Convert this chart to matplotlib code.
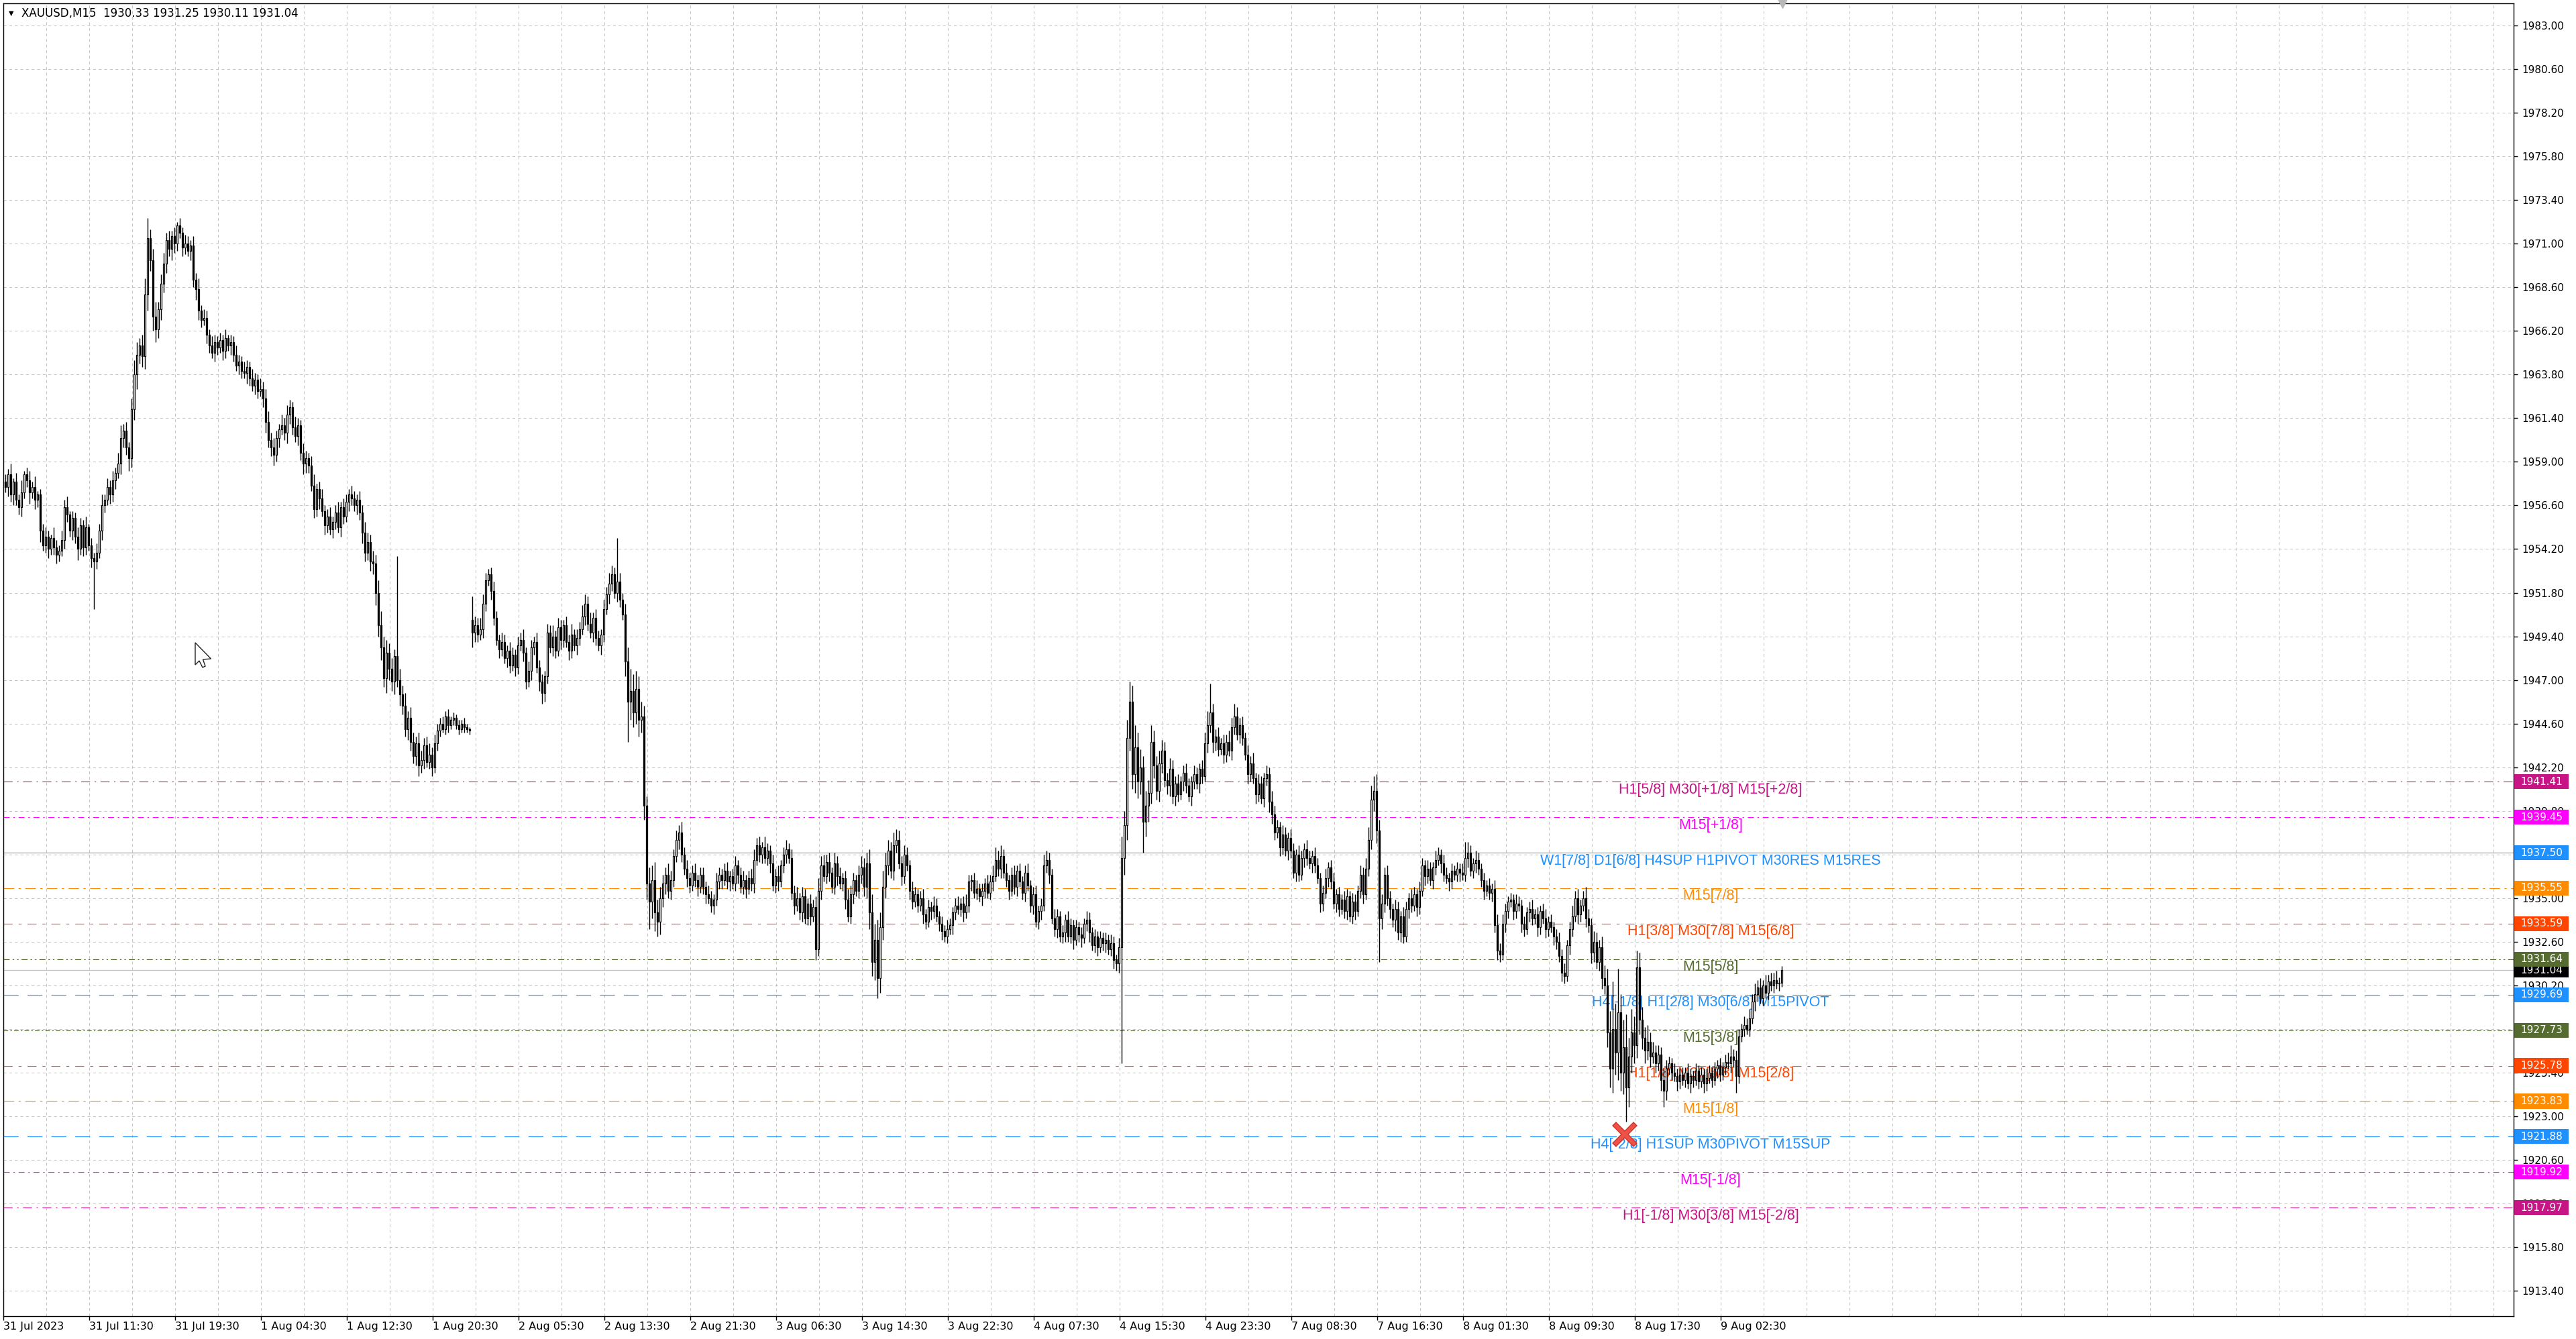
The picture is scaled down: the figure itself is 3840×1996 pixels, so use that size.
import numpy as np
import matplotlib
matplotlib.use("Agg")
import matplotlib.pyplot as plt
from matplotlib.patches import Rectangle, Polygon
from matplotlib.transforms import blended_transform_factory

# XAUUSD M15 closes (bar 0 = 31 Jul 03:30)
closes = [
    1957.6, 1958.3, 1957.2, 1957.9, 1956.9, 1956.5, 1957.3, 1958.3, 1958.0, 1957.3, 1957.6, 1956.9, 1957.2, 1955.2, 1954.4, 1954.9, 1954.2, 1954.8, 1954.3, 1953.9,
    1954.1, 1954.7, 1956.5, 1956.1, 1955.2, 1955.9, 1954.9, 1954.2, 1955.5, 1954.3, 1955.4, 1954.4, 1953.7, 1953.5, 1954.0, 1955.2, 1956.6, 1956.9, 1957.6, 1957.2,
    1958.0, 1958.4, 1958.9, 1960.3, 1960.7, 1959.8, 1959.2, 1961.9, 1963.8, 1964.9, 1965.4, 1964.8, 1968.2, 1971.3, 1970.1, 1967.0, 1966.3, 1967.4, 1968.8, 1969.9,
    1971.2, 1970.7, 1971.4, 1971.0, 1972.0, 1971.6, 1970.8, 1971.0, 1970.6, 1970.9, 1969.0, 1968.5, 1967.3, 1966.8, 1966.9, 1966.0, 1965.4, 1965.0, 1965.6, 1965.3,
    1965.7, 1965.1, 1965.8, 1965.4, 1965.6, 1964.9, 1964.3, 1964.5, 1964.0, 1963.9, 1964.2, 1963.6, 1963.2, 1963.5, 1962.9, 1963.0, 1962.5, 1961.2, 1960.2, 1959.8,
    1959.4, 1960.3, 1960.8, 1961.0, 1960.6, 1961.6, 1962.0, 1960.9, 1960.4, 1961.0, 1959.5, 1958.9, 1959.2, 1958.8, 1957.7, 1956.4, 1957.5, 1957.0, 1956.3, 1955.5,
    1956.0, 1955.3, 1955.7, 1956.2, 1955.4, 1956.5, 1956.0, 1956.8, 1957.2, 1957.0, 1956.6, 1956.9, 1956.2, 1955.1, 1954.0, 1954.6, 1953.5, 1953.4, 1951.8, 1950.0,
    1948.8, 1947.1, 1948.5, 1947.6, 1946.9, 1948.3, 1947.0, 1946.2, 1945.6, 1944.3, 1944.9, 1943.6, 1942.8, 1943.5, 1942.3, 1942.6, 1943.4, 1942.5, 1942.9, 1942.2,
    1943.5, 1944.2, 1944.6, 1944.3, 1945.0, 1944.5, 1944.8, 1944.9, 1944.5, 1944.3, 1944.6, 1944.4, 1944.3, 1944.2, 1949.6, 1950.0, 1949.5, 1949.8, 1951.2, 1952.5,
    1952.8, 1951.9, 1950.4, 1949.2, 1948.7, 1949.1, 1948.2, 1948.6, 1947.8, 1948.4, 1947.7, 1948.9, 1949.2, 1948.5, 1946.9, 1947.5, 1948.8, 1949.1, 1947.7, 1946.9,
    1946.3, 1947.2, 1949.6, 1948.8, 1949.4, 1948.6, 1949.9, 1949.2, 1950.0, 1949.1, 1948.6, 1949.5, 1948.9, 1949.3, 1949.8, 1950.5, 1951.2, 1950.1, 1949.6, 1950.4,
    1949.3, 1948.9, 1949.5, 1950.9, 1951.7, 1952.3, 1952.8, 1951.8, 1952.4, 1951.4, 1950.6, 1948.0, 1945.8, 1946.4, 1945.2, 1946.5, 1944.8, 1945.0, 1940.1, 1935.8,
    1934.8, 1936.0, 1934.2, 1933.7, 1935.0, 1935.8, 1936.3, 1935.4, 1936.0, 1937.3, 1938.2, 1938.6, 1937.4, 1936.6, 1936.1, 1935.7, 1936.4, 1936.0, 1935.6, 1936.3,
    1935.6, 1935.2, 1935.0, 1934.6, 1934.9, 1935.9, 1936.3, 1936.0, 1936.5, 1935.9, 1936.2, 1935.8, 1936.8, 1936.3, 1935.6, 1936.0, 1935.5, 1936.1, 1935.8, 1937.1,
    1937.9, 1937.4, 1937.8, 1937.2, 1937.6, 1936.9, 1935.7, 1936.2, 1935.9, 1936.8, 1937.4, 1937.7, 1937.2, 1935.3, 1934.6, 1935.0, 1934.2, 1935.1, 1933.9, 1934.7,
    1934.0, 1934.5, 1932.2, 1935.4, 1936.8, 1936.2, 1937.0, 1936.4, 1935.6, 1936.9, 1936.2, 1935.8, 1936.1, 1934.9, 1934.0, 1935.2, 1936.0, 1935.4, 1936.3, 1936.7,
    1935.6, 1936.9, 1934.2, 1931.5, 1932.7, 1930.6, 1933.4, 1935.6, 1936.8, 1937.6, 1936.5, 1937.9, 1938.2, 1936.9, 1936.2, 1937.4, 1936.8, 1935.4, 1934.8, 1935.2,
    1934.6, 1935.0, 1934.1, 1933.7, 1934.5, 1934.3, 1934.6, 1934.0, 1933.6, 1933.2, 1932.9, 1933.3, 1933.5, 1934.2, 1934.6, 1934.4, 1934.7, 1934.2, 1934.6, 1935.9,
    1936.0, 1935.3, 1935.5, 1935.1, 1935.4, 1935.8, 1935.3, 1935.9, 1936.2, 1937.1, 1936.6, 1937.3, 1936.4, 1936.0, 1935.4, 1936.3, 1935.6, 1936.5, 1935.9, 1935.3,
    1936.4, 1935.7, 1934.6, 1935.2, 1933.7, 1934.3, 1934.6, 1936.8, 1937.1, 1936.3, 1933.9, 1933.3, 1934.0, 1932.9, 1933.1, 1933.8, 1932.9, 1933.5, 1932.7, 1933.4,
    1933.0, 1932.8, 1933.6, 1933.8, 1933.1, 1932.4, 1932.9, 1932.3, 1932.8, 1932.5, 1932.7, 1932.2, 1932.5, 1931.6, 1931.4, 1932.3, 1937.2, 1939.0, 1943.8, 1945.8,
    1941.8, 1943.3, 1941.4, 1942.2, 1939.2, 1940.1, 1940.8, 1943.6, 1942.3, 1940.9, 1942.4, 1943.1, 1941.5, 1941.2, 1942.1, 1940.6, 1941.3, 1940.7, 1941.4, 1941.9,
    1941.2, 1940.6, 1941.4, 1941.8, 1941.3, 1942.1, 1941.7, 1943.5, 1944.5, 1945.2, 1943.6, 1943.9, 1943.2, 1943.5, 1942.9, 1943.6, 1943.1, 1944.4, 1945.0, 1944.0,
    1944.5, 1943.8, 1942.9, 1941.8, 1942.4, 1941.6, 1940.7, 1941.3, 1940.5, 1941.6, 1941.8, 1940.3, 1939.6, 1938.6, 1938.9, 1937.8, 1938.5, 1937.6, 1938.3, 1937.6,
    1936.4, 1937.4, 1936.3, 1937.2, 1937.7, 1937.2, 1936.9, 1937.3, 1936.8, 1936.1, 1934.7, 1935.3, 1936.1, 1936.7, 1935.9, 1934.7, 1935.2, 1934.4, 1934.9, 1934.3,
    1935.1, 1934.0, 1934.8, 1934.3, 1935.4, 1936.3, 1935.2, 1936.6, 1938.2, 1940.4, 1940.9, 1938.7, 1933.9, 1934.7, 1936.3, 1935.0, 1934.4, 1933.8, 1934.4, 1933.1,
    1934.0, 1932.9, 1934.4, 1935.0, 1934.6, 1935.2, 1934.5, 1935.4, 1936.8, 1936.2, 1936.6, 1936.0, 1936.7, 1937.1, 1937.4, 1936.9, 1936.3, 1936.1, 1935.9, 1936.5,
    1936.3, 1936.6, 1936.4, 1936.3, 1937.2, 1937.5, 1936.5, 1936.9, 1937.1, 1936.6, 1936.0, 1935.4, 1935.7, 1935.3, 1935.5, 1933.5, 1932.1, 1931.9, 1933.6, 1934.3,
    1934.8, 1934.9, 1934.3, 1934.7, 1934.6, 1933.6, 1933.3, 1934.2, 1934.4, 1933.9, 1934.1, 1933.4, 1934.3, 1933.9, 1933.3, 1933.7, 1933.4, 1932.9, 1932.6, 1931.8,
    1930.9, 1930.7, 1932.4, 1933.3, 1934.0, 1935.0, 1934.1, 1934.6, 1935.0, 1933.9, 1933.5, 1932.0, 1932.6, 1931.5, 1932.3, 1930.6, 1930.2, 1927.6, 1925.6, 1927.8,
    1926.5, 1928.7, 1925.4, 1926.8, 1924.6, 1926.3, 1927.6, 1926.9, 1931.2, 1928.3, 1927.3, 1926.6, 1927.1, 1926.3, 1926.5, 1925.9, 1926.4, 1925.0, 1924.4, 1925.6,
    1925.9, 1925.4, 1925.2, 1924.9, 1925.3, 1925.0, 1925.4, 1924.8, 1925.2, 1925.0, 1925.5, 1924.9, 1925.3, 1924.8, 1925.1, 1925.4, 1925.0, 1925.6, 1925.8, 1925.3,
    1925.7, 1926.0, 1925.9, 1926.3, 1926.1, 1925.2, 1927.4, 1927.8, 1928.0, 1927.8, 1928.4, 1929.3, 1929.7, 1930.1, 1929.5, 1930.2, 1929.8, 1930.4, 1930.2, 1930.5,
    1930.3, 1930.33, 1931.04,
]

# upper / lower wick lengths above / below the body of each bar
wick_up = [
    0.4, 0.3, 0.6, 0.2, 0.5, 0.3, 0.7, 0.2, 0.4, 0.5, 0.3, 0.6, 0.2, 0.3, 0.4, 0.5, 0.3, 0.2, 0.6, 0.4,
    0.3, 0.5, 0.4, 0.6, 0.2, 0.4, 0.3, 0.5, 0.4, 0.3, 0.6, 0.2, 0.4, 0.3, 0.5, 0.4, 0.6, 0.3, 0.5, 0.4,
    0.5, 0.3, 0.6, 0.7, 0.4, 0.5, 0.3, 0.6, 0.8, 0.7, 0.4, 0.6, 0.9, 1.1, 0.5, 0.6, 0.8, 0.4, 0.5, 0.6,
    0.4, 0.5, 0.3, 0.5, 0.2, 0.4, 0.3, 0.5, 0.4, 0.3, 0.5, 0.4, 0.6, 0.3, 0.5, 0.4, 0.3, 0.5, 0.4, 0.3,
    0.4, 0.3, 0.5, 0.2, 0.4, 0.3, 0.5, 0.4, 0.3, 0.5, 0.4, 0.3, 0.5, 0.4, 0.3, 0.6, 0.4, 0.5, 0.6, 0.4,
    0.5, 0.4, 0.3, 0.6, 0.4, 0.5, 0.4, 0.3, 0.6, 0.4, 0.3, 0.5, 0.4, 0.3, 0.5, 0.6, 0.3, 0.4, 0.5, 0.3,
    0.4, 0.5, 0.3, 0.4, 0.6, 0.3, 0.5, 0.4, 0.3, 0.5, 0.4, 0.3, 0.5, 0.4, 0.6, 0.5, 0.4, 0.6, 0.5, 0.7,
    0.8, 0.6, 0.7, 0.5, 0.6, 0.4, 5.5, 0.6, 0.5, 0.7, 0.4, 0.6, 0.5, 0.4, 0.6, 0.5, 0.4, 0.5, 0.6, 0.4,
    0.5, 0.4, 0.3, 0.4, 0.3, 0.4, 0.2, 0.3, 0.2, 0.3, 0.2, 0.3, 0.2, 0.1, 1.3, 0.5, 0.4, 0.6, 0.5, 0.4,
    0.3, 0.4, 0.5, 0.4, 0.3, 0.5, 0.4, 0.3, 0.5, 0.4, 0.3, 0.5, 0.4, 0.6, 0.3, 0.5, 0.4, 0.3, 0.5, 0.4,
    0.4, 0.3, 0.5, 0.4, 0.6, 0.3, 0.5, 0.4, 0.3, 0.5, 0.4, 0.6, 0.3, 0.5, 0.4, 0.6, 0.5, 0.4, 0.6, 0.3,
    0.5, 0.4, 0.3, 0.5, 0.4, 0.6, 0.5, 0.4, 2.4, 0.5, 0.4, 0.6, 0.8, 1.2, 0.9, 1.0, 0.7, 0.8, 0.6, 0.5,
    0.9, 0.8, 1.0, 0.7, 0.6, 0.5, 0.4, 0.6, 0.5, 0.4, 0.5, 0.4, 0.6, 0.4, 0.5, 0.3, 0.4, 0.5, 0.3, 0.4,
    0.4, 0.3, 0.5, 0.4, 0.3, 0.5, 0.4, 0.3, 0.4, 0.5, 0.3, 0.4, 0.5, 0.3, 0.4, 0.5, 0.3, 0.4, 0.5, 0.6,
    0.4, 0.5, 0.3, 0.6, 0.4, 0.3, 0.5, 0.4, 0.6, 0.3, 0.4, 0.5, 0.3, 0.5, 0.4, 0.6, 0.3, 0.5, 0.4, 0.3,
    0.5, 0.4, 0.6, 0.7, 0.5, 0.6, 0.4, 0.5, 0.3, 0.6, 0.4, 0.5, 0.3, 0.4, 0.6, 0.5, 0.4, 0.3, 0.5, 0.6,
    0.5, 0.6, 0.8, 1.0, 0.9, 1.1, 0.8, 0.9, 0.7, 0.6, 0.5, 0.7, 0.6, 0.5, 0.4, 0.5, 0.4, 0.3, 0.5, 0.4,
    0.3, 0.4, 0.5, 0.3, 0.4, 0.3, 0.5, 0.4, 0.3, 0.4, 0.3, 0.5, 0.4, 0.3, 0.4, 0.5, 0.3, 0.4, 0.6, 0.4,
    0.3, 0.4, 0.5, 0.3, 0.4, 0.3, 0.5, 0.4, 0.6, 0.7, 0.5, 0.6, 0.4, 0.5, 0.3, 0.4, 0.5, 0.3, 0.4, 0.3,
    0.4, 0.5, 0.3, 0.4, 0.5, 0.3, 0.4, 0.6, 0.5, 0.4, 0.3, 0.5, 0.4, 0.3, 0.4, 0.3, 0.5, 0.4, 0.3, 0.4,
    0.3, 0.4, 0.3, 0.5, 0.4, 0.3, 0.4, 0.3, 0.4, 0.3, 0.4, 0.3, 0.5, 0.4, 0.3, 0.5, 1.2, 0.8, 1.0, 1.1,
    0.9, 1.2, 0.8, 1.0, 0.6, 0.8, 0.7, 0.9, 0.6, 0.5, 0.7, 0.6, 0.5, 0.4, 0.6, 0.5, 0.4, 0.5, 0.3, 0.4,
    0.5, 0.4, 0.3, 0.5, 0.4, 0.3, 0.5, 0.6, 0.8, 1.6, 0.5, 0.4, 0.5, 0.3, 0.5, 0.4, 0.6, 0.5, 0.7, 0.5,
    0.4, 0.5, 0.3, 0.5, 0.4, 0.6, 0.3, 0.5, 0.4, 0.3, 0.5, 0.4, 0.6, 0.5, 0.4, 0.3, 0.5, 0.4, 0.3, 0.5,
    0.4, 0.3, 0.5, 0.4, 0.3, 0.5, 0.4, 0.3, 0.5, 0.4, 0.3, 0.4, 0.5, 0.3, 0.4, 0.5, 0.3, 0.4, 0.3, 0.5,
    0.4, 0.3, 0.5, 0.4, 0.3, 0.5, 0.4, 0.6, 0.7, 0.8, 0.8, 0.9, 0.6, 0.5, 0.4, 0.5, 0.4, 0.3, 0.5, 0.4,
    0.3, 0.5, 0.4, 0.3, 0.5, 0.4, 0.3, 0.5, 0.4, 0.3, 0.5, 0.4, 0.3, 0.5, 0.4, 0.3, 0.5, 0.4, 0.3, 0.4,
    0.3, 0.4, 0.3, 0.5, 0.9, 0.6, 0.4, 0.3, 0.5, 0.4, 0.3, 0.4, 0.3, 0.4, 0.3, 0.5, 0.6, 0.4, 0.5, 0.4,
    0.3, 0.4, 0.3, 0.5, 0.4, 0.3, 0.4, 0.3, 0.4, 0.5, 0.3, 0.4, 0.3, 0.4, 0.5, 0.3, 0.4, 0.3, 0.4, 0.5,
    0.4, 0.5, 0.3, 0.4, 0.6, 0.4, 0.5, 0.3, 0.4, 0.6, 0.5, 0.4, 0.6, 0.5, 0.4, 0.6, 0.7, 0.9, 1.2, 2.6,
    1.4, 2.4, 1.0, 1.5, 1.8, 1.0, 1.3, 0.9, 0.9, 0.8, 0.7, 0.6, 0.9, 0.5, 0.6, 0.4, 0.5, 0.4, 0.6, 0.5,
    0.4, 0.3, 0.5, 0.4, 0.3, 0.4, 0.3, 0.5, 0.4, 0.3, 0.4, 0.3, 0.4, 0.3, 0.5, 0.4, 0.3, 0.4, 0.3, 0.4,
    0.3, 0.4, 0.5, 0.6, 0.4, 0.5, 0.4, 0.3, 0.5, 0.4, 0.5, 0.4, 0.6, 0.4, 0.5, 0.3, 0.6, 0.4, 0.5, 0.4,
    0.5, 0.3, 0.21,
]
wick_dn = [
    0.3, 0.5, 0.4, 0.6, 0.3, 0.4, 0.5, 0.3, 0.4, 0.6, 0.3, 0.5, 0.4, 0.6, 0.3, 0.4, 0.5, 0.3, 0.4, 0.5,
    0.4, 0.3, 0.5, 0.4, 0.3, 0.5, 0.4, 0.6, 0.3, 0.5, 0.4, 0.3, 0.5, 2.6, 0.4, 0.3, 0.5, 0.4, 0.3, 0.5,
    0.4, 0.5, 0.3, 0.6, 0.5, 0.4, 0.7, 0.5, 0.6, 0.8, 0.5, 0.6, 0.7, 0.9, 0.6, 0.8, 0.7, 0.5, 0.6, 0.5,
    0.5, 0.4, 0.6, 0.5, 0.4, 0.3, 0.5, 0.4, 0.3, 0.5, 0.4, 0.6, 0.5, 0.4, 0.3, 0.5, 0.4, 0.3, 0.5, 0.4,
    0.3, 0.5, 0.4, 0.3, 0.5, 0.4, 0.3, 0.5, 0.4, 0.3, 0.6, 0.4, 0.3, 0.5, 0.4, 0.3, 0.5, 0.6, 0.4, 0.5,
    0.6, 0.4, 0.5, 0.3, 0.4, 0.6, 0.5, 0.4, 0.3, 0.5, 0.4, 0.6, 0.5, 0.4, 0.3, 0.5, 0.4, 0.6, 0.3, 0.5,
    0.4, 0.3, 0.5, 0.4, 0.3, 0.5, 0.4, 0.3, 0.5, 0.4, 0.3, 0.5, 0.4, 0.6, 0.5, 0.4, 0.5, 0.6, 0.7, 0.6,
    0.7, 0.5, 0.8, 0.6, 0.5, 0.7, 0.4, 0.6, 0.5, 0.4, 0.6, 0.5, 0.4, 0.5, 0.6, 0.4, 0.5, 0.3, 0.4, 0.5,
    0.3, 0.4, 0.3, 0.2, 0.3, 0.4, 0.2, 0.3, 0.2, 0.3, 0.2, 0.3, 0.2, 0.2, 0.8, 0.5, 0.4, 0.3, 0.5, 0.4,
    0.3, 0.5, 0.4, 0.3, 0.5, 0.4, 0.3, 0.5, 0.4, 0.3, 0.5, 0.4, 0.3, 0.5, 0.4, 0.3, 0.5, 0.4, 0.3, 0.5,
    0.6, 0.5, 0.4, 0.3, 0.5, 0.4, 0.3, 0.5, 0.4, 0.3, 0.5, 0.4, 0.3, 0.5, 0.4, 0.3, 0.5, 0.4, 0.3, 0.5,
    0.4, 0.3, 0.5, 0.4, 0.3, 0.5, 0.4, 0.3, 0.5, 0.4, 0.3, 0.8, 2.2, 1.0, 0.8, 0.6, 0.9, 0.7, 0.8, 0.9,
    1.5, 0.9, 1.0, 0.8, 0.7, 0.5, 0.6, 0.4, 0.5, 0.4, 0.3, 0.5, 0.4, 0.3, 0.5, 0.4, 0.3, 0.4, 0.5, 0.3,
    0.4, 0.5, 0.3, 0.4, 0.5, 0.3, 0.4, 0.5, 0.3, 0.4, 0.5, 0.3, 0.4, 0.5, 0.3, 0.4, 0.5, 0.3, 0.4, 0.5,
    0.3, 0.4, 0.5, 0.3, 0.4, 0.5, 0.3, 0.4, 0.5, 0.3, 0.4, 0.5, 0.3, 0.4, 0.5, 0.3, 0.4, 0.5, 0.3, 0.4,
    0.5, 0.3, 0.6, 0.4, 0.5, 0.3, 0.4, 0.5, 0.3, 0.4, 0.5, 0.3, 0.4, 0.5, 0.3, 0.4, 0.5, 0.3, 0.4, 0.5,
    0.5, 0.6, 0.9, 0.8, 1.0, 1.1, 0.8, 0.7, 0.6, 0.5, 0.4, 0.5, 0.4, 0.3, 0.5, 0.4, 0.3, 0.5, 0.4, 0.3,
    0.4, 0.3, 0.5, 0.4, 0.3, 0.5, 0.4, 0.3, 0.4, 0.5, 0.3, 0.4, 0.3, 0.5, 0.4, 0.3, 0.4, 0.5, 0.3, 0.4,
    0.5, 0.3, 0.4, 0.3, 0.5, 0.4, 0.3, 0.4, 0.5, 0.3, 0.4, 0.5, 0.3, 0.4, 0.5, 0.3, 0.4, 0.5, 0.3, 0.4,
    0.5, 0.3, 0.4, 0.5, 0.3, 0.4, 0.5, 0.3, 0.4, 0.5, 0.3, 0.4, 0.5, 0.3, 0.4, 0.5, 0.3, 0.4, 0.5, 0.3,
    0.4, 0.5, 0.3, 0.4, 0.5, 0.3, 0.4, 0.5, 0.3, 0.4, 0.5, 0.3, 0.4, 0.5, 0.4, 0.5, 6.4, 0.9, 0.8, 0.7,
    0.8, 1.0, 0.9, 0.7, 1.7, 0.8, 0.9, 0.6, 0.7, 0.5, 0.6, 0.5, 0.4, 0.5, 0.6, 0.4, 0.5, 0.4, 0.3, 0.5,
    0.4, 0.3, 0.5, 0.4, 0.3, 0.5, 0.4, 0.3, 0.5, 0.4, 0.6, 0.5, 0.4, 0.3, 0.5, 0.4, 0.3, 0.5, 0.4, 0.3,
    0.5, 0.4, 0.3, 0.5, 0.4, 0.3, 0.5, 0.4, 0.3, 0.5, 0.4, 0.6, 0.5, 0.4, 0.3, 0.5, 0.4, 0.3, 0.5, 0.4,
    0.3, 0.5, 0.4, 0.3, 0.5, 0.4, 0.3, 0.5, 0.4, 0.3, 0.5, 0.4, 0.3, 0.5, 0.4, 0.3, 0.5, 0.4, 0.3, 0.4,
    0.5, 0.3, 0.4, 0.5, 0.3, 0.4, 0.5, 0.3, 0.4, 0.5, 0.6, 0.7, 2.4, 0.6, 0.5, 0.4, 0.5, 0.4, 0.6, 0.4,
    0.5, 0.4, 0.3, 0.5, 0.4, 0.3, 0.5, 0.4, 0.3, 0.5, 0.4, 0.3, 0.5, 0.4, 0.3, 0.5, 0.4, 0.3, 0.5, 0.4,
    0.3, 0.4, 0.5, 0.3, 0.4, 0.5, 0.3, 0.4, 0.5, 0.3, 0.4, 0.5, 0.3, 0.4, 0.5, 0.4, 0.5, 0.4, 0.3, 0.5,
    0.4, 0.3, 0.5, 0.4, 0.3, 0.5, 0.4, 0.3, 0.5, 0.4, 0.3, 0.5, 0.4, 0.3, 0.5, 0.4, 0.3, 0.5, 0.4, 0.3,
    0.5, 0.4, 0.3, 0.5, 0.4, 0.3, 0.5, 0.4, 0.3, 0.5, 0.4, 0.6, 0.5, 0.4, 0.5, 0.6, 0.5, 0.8, 1.0, 1.3,
    1.2, 1.5, 1.0, 1.2, 1.9, 1.1, 0.9, 1.0, 0.7, 0.8, 0.6, 0.7, 0.5, 0.6, 0.4, 0.5, 0.4, 0.6, 0.9, 0.5,
    0.3, 0.4, 0.3, 0.5, 0.4, 0.3, 0.4, 0.3, 0.5, 0.4, 0.3, 0.4, 0.3, 0.5, 0.4, 0.3, 0.4, 0.3, 0.5, 0.4,
    0.3, 0.4, 0.3, 0.5, 0.4, 0.9, 0.4, 0.3, 0.4, 0.3, 0.4, 0.3, 0.5, 0.4, 0.3, 0.4, 0.3, 0.4, 0.3, 0.4,
    0.3, 0.4, 0.22,
]

first_open = 1957.9
gap_opens = {174: 1950.3}   # day-start gap on 2 Aug

time_labels = ["31 Jul 2023", "31 Jul 11:30", "31 Jul 19:30", "1 Aug 04:30", "1 Aug 12:30",
               "1 Aug 20:30", "2 Aug 05:30", "2 Aug 13:30", "2 Aug 21:30", "3 Aug 06:30",
               "3 Aug 14:30", "3 Aug 22:30", "4 Aug 07:30", "4 Aug 15:30", "4 Aug 23:30",
               "7 Aug 08:30", "7 Aug 16:30", "8 Aug 01:30", "8 Aug 09:30", "8 Aug 17:30",
               "9 Aug 02:30"]
bars_per_label = 32

price_ticks = [1913.40, 1915.80, 1918.20, 1920.60, 1923.00, 1925.40, 1927.80, 1930.20,
               1932.60, 1935.00, 1937.40, 1939.80, 1942.20, 1944.60, 1947.00, 1949.40,
               1951.80, 1954.20, 1956.60, 1959.00, 1961.40, 1963.80, 1966.20, 1968.60,
               1971.00, 1973.40, 1975.80, 1978.20, 1980.60, 1983.00]

levels = [1941.41, 1939.45, 1937.50, 1935.55, 1933.59, 1931.64, 1929.69,
          1927.73, 1925.78, 1923.83, 1921.88, 1919.92, 1917.97]
level_names = ["H1[5/8] M30[+1/8] M15[+2/8]", "M15[+1/8]",
               "W1[7/8] D1[6/8] H4SUP H1PIVOT M30RES M15RES", "M15[7/8]",
               "H1[3/8] M30[7/8] M15[6/8]", "M15[5/8]",
               "H4[-1/8] H1[2/8] M30[6/8] M15PIVOT", "M15[3/8]",
               "H1[1/8] M30[5/8] M15[2/8]", "M15[1/8]",
               "H4[-2/8] H1SUP M30PIVOT M15SUP", "M15[-1/8]",
               "H1[-1/8] M30[3/8] M15[-2/8]"]
MVR, MAG, DB, DO, ORR, DOG = "#C71585", "#FF00FF", "#1E90FF", "#FF8C00", "#FF4500", "#556B2F"
level_colors = [MVR, MAG, DB, DO, ORR, DOG, DB, DOG, ORR, DO, DB, MAG, MVR]
level_dash = [(12, 6, 2, 6), (8, 5, 2, 5), None, (14, 6, 3, 6), (12, 8, 4, 8),
              (8, 4, 2, 4, 2, 4), (20, 12), (6, 3, 2, 3), (12, 8, 4, 8),
              (14, 6, 3, 6), (20, 12), (8, 5, 2, 5), (12, 6, 2, 6)]

bid = 1931.04
header = "XAUUSD,M15  1930.33 1931.25 1930.11 1931.04"
alert_bar, alert_price = 603.5, 1922.0

# ---------------------------------------------------------
n = min(len(closes), len(wick_up), len(wick_dn))
c = np.array(closes[:n])
o = np.empty(n)
o[0] = first_open
o[1:] = c[:-1]
for i, v in gap_opens.items():
    o[i] = v
hi = np.maximum(o, c) + np.array(wick_up[:n])
lo = np.minimum(o, c) - np.array(wick_dn[:n])
x = np.arange(n)

W, H = 3840, 1996
fig = plt.figure(figsize=(W / 100, H / 100), dpi=100)
fig.patch.set_facecolor("white")
ax = fig.add_axes([5 / W, 34 / H, 3742 / W, 1957 / H])
ax.set_xlim(-0.75, 934.75)
ax.set_ylim(1912.0, 1984.22)

# grid + scales
lab_pos = [k * bars_per_label - 0.75 for k in range(len(time_labels))]
ax.set_xticks(lab_pos)
ax.set_xticklabels(time_labels, ha="left", fontsize=11.5, family="DejaVu Sans")
ax.set_xticks([k * bars_per_label / 2 - 0.75 for k in range(59)], minor=True)
ax.tick_params(axis="x", which="major", length=4, width=1, pad=2, direction="out")
ax.tick_params(axis="x", which="minor", length=0)
ax.yaxis.tick_right()
ax.set_yticks(price_ticks)
ax.set_yticklabels([f"{p:.2f}" for p in price_ticks], fontsize=11, family="DejaVu Sans")
ax.tick_params(axis="y", length=4, width=1, pad=5, direction="out")
ax.grid(which="both", axis="x", color="#C4C4C4", linestyle=(0, (4, 4)), lw=0.75, zorder=0)
ax.grid(which="major", axis="y", color="#C4C4C4", linestyle=(0, (4, 4)), lw=0.75, zorder=0)
ax.set_axisbelow(True)
for s in ax.spines.values():
    s.set_color("black")
    s.set_linewidth(1.0)

# murrey levels
ax.axhline(bid, color="#C0C0C0", lw=0.9, zorder=1.5)
for lv, name, col, ds in zip(levels, level_names, level_colors, level_dash):
    if ds is None:
        ax.axhline(lv, color="#5A93CF", lw=0.75, zorder=2)
    else:
        ax.axhline(lv, color=col, lw=0.8, linestyle=(0, ds), zorder=2)
    ax.annotate(name, xy=(635.5, lv), xytext=(0, -12), textcoords="offset pixels",
                ha="center", va="center", fontsize=15.5,
                family=["Liberation Sans", "DejaVu Sans"], color=col, zorder=3)

# candles
ax.vlines(x, lo, hi, color="black", lw=1.0, zorder=5)
up = c >= o
bot = np.minimum(o, c)
hgt = np.abs(c - o)
ax.bar(x[up], hgt[up], bottom=bot[up], width=0.6, color="white",
       edgecolor="black", linewidth=0.9, zorder=6)
ax.bar(x[~up], hgt[~up], bottom=bot[~up], width=0.6, color="black",
       edgecolor="black", linewidth=0.9, zorder=6)

# alert cross
ax.plot(alert_bar, alert_price, marker="x", ms=23, mew=6, color="#C9352C", zorder=8)
ax.plot(alert_bar, alert_price, marker="x", ms=22, mew=4, color="#EE5247", zorder=8.5)

# chart-shift marker at the top
ax.plot(662.25, 1984.22, marker="v", ms=10, color="#B8B8B8", clip_on=False, zorder=8)

# price tags on the right scale
tr = blended_transform_factory(ax.transAxes, ax.transData)
tag_w = 81 / 3742
tag_h = 0.82
tx = 1.0 + 10 / 3742
ax.add_patch(Rectangle((1.0003, bid - tag_h / 2), tag_w, tag_h, transform=tr,
                       facecolor="black", edgecolor="none", clip_on=False, zorder=9))
ax.text(tx, bid, f"{bid:.2f}", transform=tr, va="center", ha="left", color="white",
        fontsize=11, family="DejaVu Sans", clip_on=False, zorder=9.5)
for lv, col in zip(levels, level_colors):
    ax.add_patch(Rectangle((1.0003, lv - tag_h / 2), tag_w, tag_h, transform=tr,
                           facecolor=col, edgecolor="none", clip_on=False, zorder=10))
    ax.text(tx, lv, f"{lv:.2f}", transform=tr, va="center", ha="left", color="white",
            fontsize=11, family="DejaVu Sans", clip_on=False, zorder=11)

# mouse pointer left on the chart (pixel outline, tip at 291,958)
tip_x, tip_y = 291, 958
arrow = [(0, 0), (0, 33), (6, 27), (11, 37), (15, 35), (11.5, 25), (23.5, 24)]
pts = [((tip_x + dx) / W, 1 - (tip_y + dy) / H) for dx, dy in arrow]
fig.patches.append(Polygon(pts, closed=True, facecolor="white", edgecolor="#202020",
                           lw=1.0, transform=fig.transFigure, zorder=20))

# header
fig.text(13 / W, 1 - 20 / H, "\u25BC", fontsize=7, va="center", ha="left")
fig.text(32 / W, 1 - 20 / H, header, fontsize=12, va="center", ha="left",
         family="DejaVu Sans")

fig.savefig("out.png", dpi=100, facecolor="white")
